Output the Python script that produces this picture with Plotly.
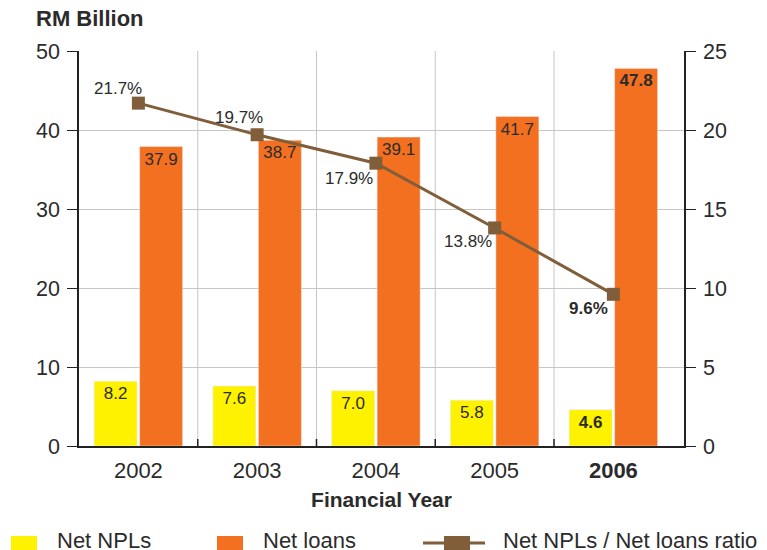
import plotly.graph_objects as go
from plotly.subplots import make_subplots

years = ["2002", "2003", "2004", "2005", "2006"]
year_labels = ["2002", "2003", "2004", "2005", "<b>2006</b>"]
net_npls = [8.2, 7.6, 7.0, 5.8, 4.6]
net_loans = [37.9, 38.7, 39.1, 41.7, 47.8]
ratio = [21.7, 19.7, 17.9, 13.8, 9.6]
# label placement relative to each ratio marker (pixels)
ratio_dx = [-20, -18, -27, -27, -25]
ratio_dy = [15, 17, -15, -14, -14]

series_names = ["Net NPLs", "Net loans", "Net NPLs / Net loans ratio"]
colors = ["#fff200", "#f37021", "#805e3a"]

def fmt(vals, suffix=""):
    out = []
    for i, v in enumerate(vals):
        s = f"{v:.1f}{suffix}"
        out.append(f"<b>{s}</b>" if i == len(vals) - 1 else s)
    return out

FONT = "Liberation Sans, Arial, sans-serif"
TXT = "#2b2b2b"
AX = "#222222"
GRID = "#c6c6c6"
W, H = 767, 550
ML, MR, MT, MB = 79, 83, 51, 104
PW, PH = W - ML - MR, H - MT - MB
CAT_PX = 118.75
x_max = -0.5 + PW / CAT_PX

def px(x):
    return (x - ML) / PW

def py(y):
    return (H - MB - y) / PH

fig = make_subplots(specs=[[{"secondary_y": True}]])
fig.add_trace(go.Bar(x=years, y=net_npls, name=series_names[0], marker_color=colors[0],
                     text=fmt(net_npls), textposition="inside", insidetextanchor="end",
                     textangle=0, constraintext="none",
                     textfont=dict(size=17, color=TXT, family=FONT)), secondary_y=False)
fig.add_trace(go.Bar(x=years, y=net_loans, name=series_names[1], marker_color=colors[1],
                     text=fmt(net_loans), textposition="inside", insidetextanchor="end",
                     textangle=0, constraintext="none",
                     textfont=dict(size=17, color=TXT, family=FONT)), secondary_y=False)
fig.add_trace(go.Scatter(x=years, y=ratio, name=series_names[2],
                         mode="lines+markers",
                         line=dict(color=colors[2], width=3),
                         marker=dict(symbol="square", size=13, color=colors[2])),
              secondary_y=True)

annotations = [
    dict(text="<b>RM Billion</b>", xref="paper", yref="paper", x=px(34), y=py(33),
         xanchor="left", yanchor="bottom", showarrow=False,
         font=dict(size=22, color=TXT, family=FONT)),
]
for i, (v, t, dx, dy) in enumerate(zip(ratio, fmt(ratio, "%"), ratio_dx, ratio_dy)):
    annotations.append(dict(text=t, x=i, y=v, xref="x", yref="y2", showarrow=False,
                            xshift=dx, yshift=dy, xanchor="center", yanchor="middle",
                            font=dict(size=17, color=TXT, family=FONT)))

shapes = []
# vertical gridlines and inside ticks at category boundaries
for i in range(len(years) - 1):
    b = i + 0.5
    shapes.append(dict(type="line", xref="x", yref="paper", x0=b, x1=b, y0=0, y1=1,
                       line=dict(color=GRID, width=1), layer="below"))
    shapes.append(dict(type="line", xref="x", yref="y", x0=b, x1=b, y0=0, y1=7,
                       ysizemode="pixel", yanchor=0, line=dict(color=AX, width=1.5)))

# manual legend
leg_y = 540
shapes.append(dict(type="rect", xref="paper", yref="paper", x0=px(11), x1=px(37),
                   y0=py(551), y1=py(536), fillcolor=colors[0], line=dict(width=0)))
shapes.append(dict(type="rect", xref="paper", yref="paper", x0=px(217), x1=px(243),
                   y0=py(551), y1=py(536), fillcolor=colors[1], line=dict(width=0)))
shapes.append(dict(type="line", xref="paper", yref="paper", x0=px(423), x1=px(485),
                   y0=py(543), y1=py(543), line=dict(color=colors[2], width=3)))
shapes.append(dict(type="rect", xref="paper", yref="paper", x0=px(444), x1=px(470),
                   y0=py(551), y1=py(536), fillcolor=colors[2], line=dict(width=0)))
for name, x0 in zip(series_names, [55, 261, 501]):
    annotations.append(dict(text=name, xref="paper", yref="paper", x=px(x0), y=py(leg_y),
                            xanchor="left", yanchor="middle", showarrow=False,
                            font=dict(size=22, color=TXT, family=FONT)))

fig.update_layout(
    width=W, height=H,
    margin=dict(l=ML, r=MR, t=MT, b=MB, autoexpand=False),
    paper_bgcolor="white", plot_bgcolor="white",
    font=dict(family=FONT, color=TXT),
    barmode="group", bargap=0.234, bargroupgap=0.055,
    uniformtext=dict(minsize=17, mode="show"),
    showlegend=False,
    annotations=annotations,
    shapes=shapes,
)
fig.update_xaxes(type="category", range=[-0.5, x_max], domain=[0, 1],
                 tickmode="array", tickvals=years, ticktext=year_labels, tickangle=0,
                 showgrid=False, ticks="", ticklabelstandoff=4,
                 showline=True, linecolor=AX, linewidth=1.5,
                 tickfont=dict(size=22, color=TXT, family=FONT),
                 title=dict(text="<b>Financial Year</b>", font=dict(size=21, color=TXT, family=FONT),
                            standoff=10))
fig.update_yaxes(range=[0, 50], dtick=10, showgrid=True, gridcolor=GRID,
                 showline=True, linecolor=AX, linewidth=1.5,
                 ticks="outside", ticklen=10, tickcolor=AX, ticklabelstandoff=3,
                 tickfont=dict(size=21.5, color=TXT, family=FONT), zeroline=False,
                 secondary_y=False)
fig.update_yaxes(range=[0, 25], dtick=5, showgrid=False,
                 showline=True, linecolor=AX, linewidth=1.5,
                 ticks="outside", ticklen=10, tickcolor=AX, ticklabelstandoff=3,
                 tickfont=dict(size=21.5, color=TXT, family=FONT), zeroline=False,
                 secondary_y=True)

fig.write_html("out.html", config={"displayModeBar": False},
               post_script="document.body.style.margin='0';")
